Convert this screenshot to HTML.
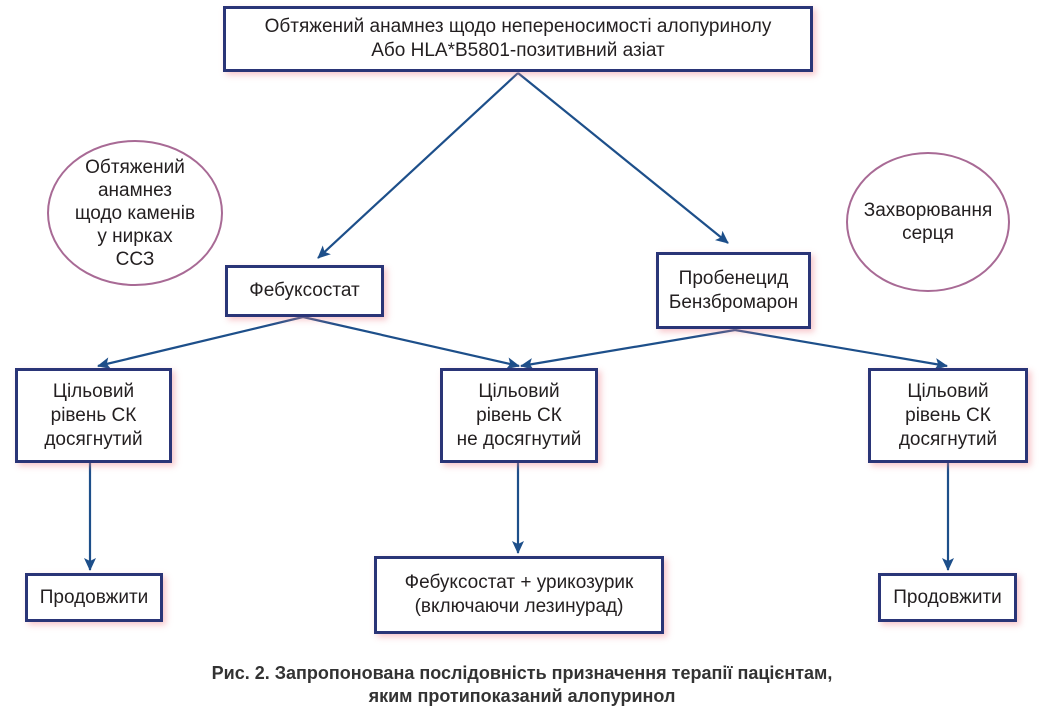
<!DOCTYPE html>
<html><head><meta charset="utf-8"><style>
body{margin:0;width:1044px;height:718px;background:#fff;position:relative;overflow:hidden;font-family:"Liberation Sans","DejaVu Sans",sans-serif;color:#231f20}
.b{position:absolute;box-sizing:border-box;border:3px solid #2a3577;background:#fff;box-shadow:3px 3px 6px rgba(240,130,140,.45);display:flex;align-items:center;justify-content:center;text-align:center;font-size:19px;line-height:24px}
.c{position:absolute;box-sizing:border-box;border:2px solid #a86a95;border-radius:50%;display:flex;align-items:center;justify-content:center;text-align:center;font-size:19px;line-height:23px}
.cap{position:absolute;left:0;width:1044px;text-align:center;font-weight:bold;font-size:18px;line-height:23px;top:662px;color:#333}
svg{position:absolute;left:0;top:0}
</style></head><body>
<svg width="1044" height="718">
<defs><marker id="a" markerWidth="13" markerHeight="12" refX="12" refY="6" orient="auto" markerUnits="userSpaceOnUse"><path d="M0,0 L13,6 L0,12 L3,6 Z" fill="#1d4f8a"/></marker></defs>
<g stroke="#1d4f8a" stroke-width="2.2" fill="none" marker-end="url(#a)">
<line x1="518" y1="73" x2="318" y2="258"/>
<line x1="518" y1="73" x2="728" y2="243"/>
<line x1="303" y1="317" x2="98" y2="366"/>
<line x1="303" y1="317" x2="519" y2="366"/>
<line x1="735" y1="330" x2="521" y2="366"/>
<line x1="735" y1="330" x2="947" y2="366"/>
<line x1="90" y1="463" x2="90" y2="570"/>
<line x1="518" y1="463" x2="518" y2="553"/>
<line x1="948" y1="463" x2="948" y2="570"/>
</g></svg>
<div class="b" style="left:223px;top:6px;width:590px;height:66px">Обтяжений анамнез щодо непереносимості алопуринолу<br>Або HLA*B5801-позитивний азіат</div>
<div class="c" style="left:47px;top:140px;width:176px;height:146px">Обтяжений<br>анамнез<br>щодо каменів<br>у нирках<br>ССЗ</div>
<div class="c" style="left:846px;top:152px;width:164px;height:140px">Захворювання<br>серця</div>
<div class="b" style="left:225px;top:265px;width:159px;height:52px">Фебуксостат</div>
<div class="b" style="left:656px;top:252px;width:155px;height:77px">Пробенецид<br>Бензбромарон</div>
<div class="b" style="left:15px;top:368px;width:157px;height:95px">Цільовий<br>рівень СК<br>досягнутий</div>
<div class="b" style="left:440px;top:368px;width:158px;height:95px">Цільовий<br>рівень СК<br>не досягнутий</div>
<div class="b" style="left:868px;top:368px;width:160px;height:95px">Цільовий<br>рівень СК<br>досягнутий</div>
<div class="b" style="left:25px;top:573px;width:138px;height:49px">Продовжити</div>
<div class="b" style="left:374px;top:556px;width:290px;height:78px">Фебуксостат + урикозурик<br>(включаючи лезинурад)</div>
<div class="b" style="left:878px;top:573px;width:139px;height:49px">Продовжити</div>
<div class="cap">Рис. 2. Запропонована послідовність призначення терапії пацієнтам,<br>яким протипоказаний алопуринол</div>
</body></html>
